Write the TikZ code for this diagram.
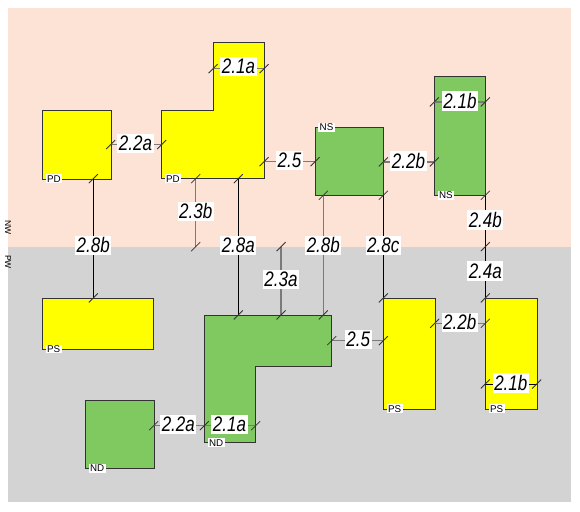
\documentclass[tikz,border=0pt]{standalone}
\usepackage{fontspec}
\setmainfont{Liberation Sans}
\newfontfamily\lblfont[FakeStretch=0.81]{Liberation Sans}
\definecolor{peach}{HTML}{FDE3D6}
\definecolor{greyreg}{HTML}{D3D3D3}
\definecolor{grn}{HTML}{80C860}
\definecolor{yel}{HTML}{FFFF00}
\definecolor{edge}{HTML}{333333}
\definecolor{lgrey}{HTML}{7A7A7A}
\tikzset{
  shp/.style={draw=edge, line width=1pt},
  boxn/.style={shp, rectangle, inner sep=0pt, anchor=north west},
  conng/.style={draw=lgrey, line width=1.3pt},
  connk/.style={draw=black, line width=0.8pt},
  lbl/.style={fill=white, inner xsep=1.5pt, inner ysep=1.5pt, text height=15.3pt, text depth=1pt,
    font=\lblfont\itshape\fontsize{21}{21}\selectfont},
  tag/.style={fill=white, inner xsep=1.5pt, inner ysep=0.8pt, text height=7pt, text depth=0.3pt,
    anchor=west, font=\fontsize{9.8}{9.8}\selectfont},
  rot/.style={rotate=-90, font=\fontsize{8.5}{8.5}\selectfont, inner sep=0pt},
  tk/.pic={\draw[edge, line width=0.8pt] (-4.5,4.5) -- (4.5,-4.5);}
}
\begin{document}
\begin{tikzpicture}[x=1pt,y=-1pt]
\useasboundingbox (0,0) rectangle (580,511);
\fill[white] (0,0) rectangle (580,511);
% regions
\fill[peach] (8,8) rectangle (571,246.7);
\fill[greyreg] (8,246.7) rectangle (571,502);
\node[rot, anchor=east] (nw) at (8,235) {NW};
\node[rot, anchor=west] (pw) at (8,255) {PW};

% shapes
\node[boxn, fill=yel, minimum width=68.4pt, minimum height=68.7pt] (pdA) at (42.3,110) {};
\draw[shp, fill=yel] (161.7,110) -- (213,110) -- (213,42.3) -- (264,42.3) -- (264,178.7) -- (161.7,178.7) -- cycle;
\node[boxn, fill=grn, minimum width=68.3pt, minimum height=68pt] (nsA) at (315,127.3) {};
\node[boxn, fill=grn, minimum width=51pt, minimum height=119pt] (nsB) at (434.3,76.3) {};
\node[boxn, fill=yel, minimum width=111pt, minimum height=51pt] (psA) at (42.3,298) {};
\draw[shp, fill=grn] (204.3,315) -- (331.7,315) -- (331.7,366) -- (255.7,366) -- (255.7,442.7) -- (204.3,442.7) -- cycle;
\node[boxn, fill=grn, minimum width=68.4pt, minimum height=68pt] (ndA) at (85.3,400.3) {};
\node[boxn, fill=yel, minimum width=51.4pt, minimum height=110.7pt] (psB) at (383.3,298) {};
\node[boxn, fill=yel, minimum width=51.4pt, minimum height=110.7pt] (psC) at (485.3,298) {};

% connector end points
\coordinate (a21a) at (213,68.7);   \coordinate (b21a) at (264,68.7);
\coordinate (a22a) at (110.7,144.5); \coordinate (b22a) at (161.7,144.5);
\coordinate (a25) at (264,161.7);   \coordinate (b25) at (315,161.7);
\coordinate (a22b) at (383.3,162);  \coordinate (b22b) at (434.3,162);
\coordinate (a21b) at (434.3,102);  \coordinate (b21b) at (485.3,102);
\coordinate (a24b) at (485.3,195.3); \coordinate (m24) at (485.3,246.7);
\coordinate (b24a) at (485.3,298);
\coordinate (a28b) at (93.3,178.7); \coordinate (b28b) at (93.3,298);
\coordinate (a23b) at (195.7,178.7); \coordinate (b23b) at (195.7,246.7);
\coordinate (a28a) at (238.3,178.7); \coordinate (b28a) at (238.3,315);
\coordinate (a23a) at (281,246.7);  \coordinate (b23a) at (281,315);
\coordinate (a28m) at (323.3,195.3); \coordinate (b28m) at (323.3,315);
\coordinate (a28c) at (383.3,195.3); \coordinate (b28c) at (383.3,298);
\coordinate (a25l) at (331.7,340.7); \coordinate (b25l) at (383.3,340.7);
\coordinate (a22bl) at (434.7,323.3); \coordinate (b22bl) at (485.3,323.3);
\coordinate (a21bl) at (485.3,384); \coordinate (b21bl) at (536.7,384);
\coordinate (a22al) at (153.7,425.7); \coordinate (b22al) at (204.3,425.7);
\coordinate (a21al) at (204.3,425.7); \coordinate (b21al) at (255.7,425.7);

% connectors
\draw[conng] (a21a) -- (b21a);
\draw[conng] (a22a) -- (b22a);
\draw[conng] (a25) -- (b25);
\draw[conng] (a22b) -- (b22b);
\draw[conng] (a21b) -- (b21b);
\draw[connk] (a24b) -- (m24);
\draw[connk] (m24) -- (b24a);
\draw[connk] (a28b) -- (b28b);
\draw[conng] (a23b) -- (b23b);
\draw[connk] (a28a) -- (b28a);
\draw[conng] (a23a) -- (b23a);
\draw[conng] (a28m) -- (b28m);
\draw[connk] (a28c) -- (b28c);
\draw[conng] (a25l) -- (b25l);
\draw[conng] (a22bl) -- (b22bl);
\draw[connk] (a21bl) -- (b21bl);
\draw[conng] (a22al) -- (b22al);
\draw[conng] (a21al) -- (b21al);

% ticks
\foreach \c in {a21a,b21a,a22a,b22a,a25,b25,a22b,b22b,a21b,b21b,a24b,m24,b24a,
  a28b,b28b,a23b,b23b,a28a,b28a,a23a,b23a,a28m,b28m,a28c,b28c,a25l,b25l,
  a22bl,b22bl,a21bl,b21bl,a22al,b22al,b21al}
  \pic at (\c) {tk};

% labels
\node[lbl] (l21a) at (238.5,66.5) {2.1a};
\node[lbl] (l22a) at (135.5,143.5) {2.2a};
\node[lbl] (l25) at (289.5,160.5) {2.5};
\node[lbl] (l22b) at (408.5,161) {2.2b};
\node[lbl] (l21b) at (460,101) {2.1b};
\node[lbl] (l24b) at (485.3,220) {2.4b};
\node[lbl] (l24a) at (485.3,271) {2.4a};
\node[lbl] (l28b) at (93.3,245.5) {2.8b};
\node[lbl] (l23b) at (195.7,211.5) {2.3b};
\node[lbl] (l28a) at (238.3,245.5) {2.8a};
\node[lbl] (l23a) at (281,279.7) {2.3a};
\node[lbl] (l28m) at (323.3,245.5) {2.8b};
\node[lbl] (l28c) at (383.3,245.5) {2.8c};
\node[lbl] (l25l) at (358.3,339.7) {2.5};
\node[lbl] (l22bl) at (459.7,322.3) {2.2b};
\node[lbl] (l21bl) at (510.8,383) {2.1b};
\node[lbl] (l22al) at (178.3,424.7) {2.2a};
\node[lbl] (l21al) at (229.5,424.7) {2.1a};

% tags
\node[tag] (tpdA) at (45.5,178.7) {PD};
\node[tag] (tpdB) at (164.5,178.7) {PD};
\node[tag] (tnsA) at (318,127.3) {NS};
\node[tag] (tnsB) at (437.3,195.3) {NS};
\node[tag] (tpsA) at (45.3,349) {PS};
\node[tag] (tndB) at (207.3,442.7) {ND};
\node[tag] (tndA) at (88.3,468.3) {ND};
\node[tag] (tpsB) at (386.3,408.7) {PS};
\node[tag] (tpsC) at (488.3,408.7) {PS};
\end{tikzpicture}
\end{document}
